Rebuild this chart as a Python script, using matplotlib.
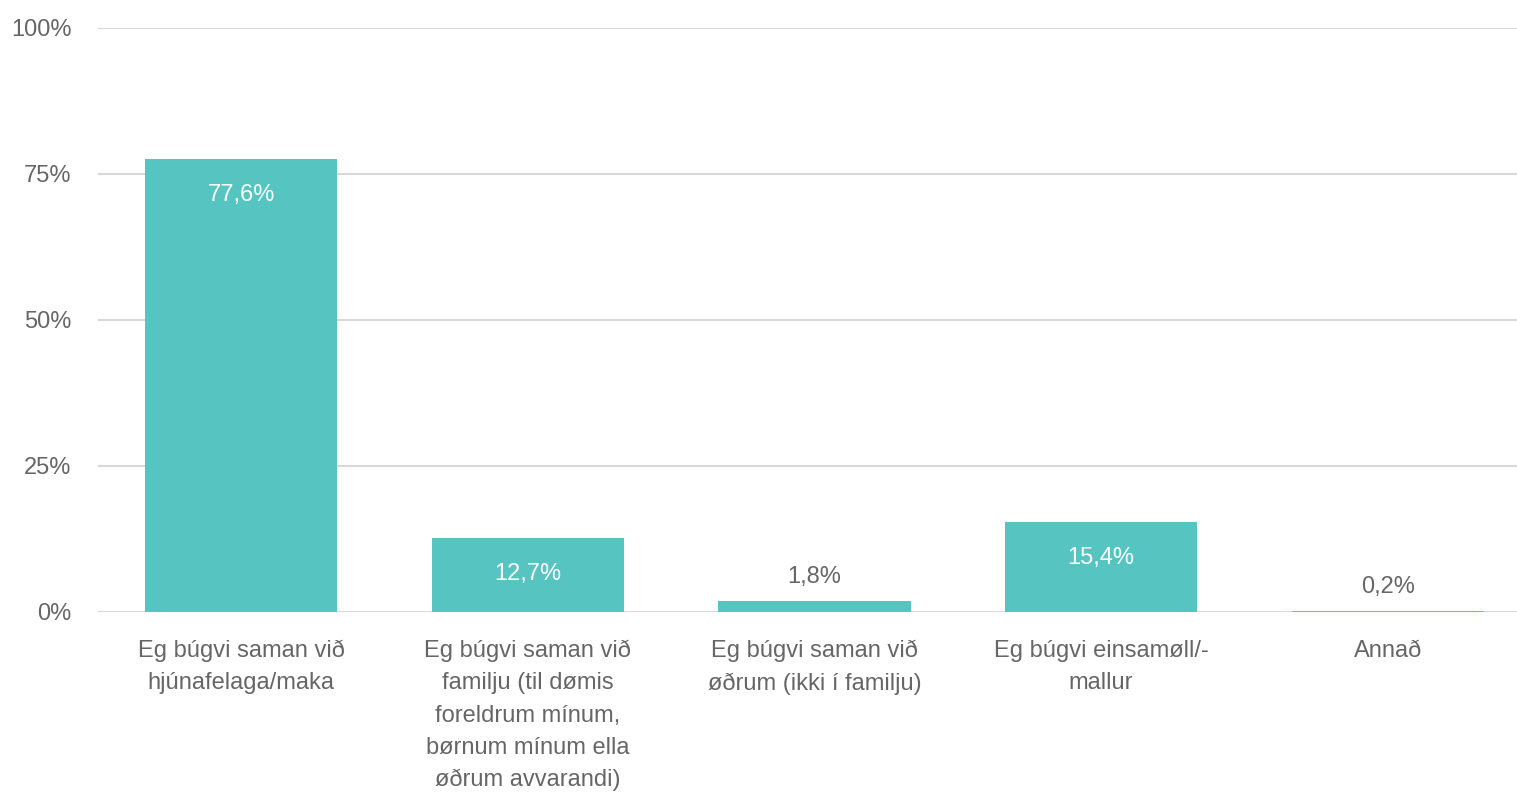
import matplotlib
matplotlib.use("Agg")
import matplotlib.pyplot as plt

categories = [
    "Eg búgvi saman við\nhjúnafelaga/maka",
    "Eg búgvi saman við\nfamilju (til dømis\nforeldrum mínum,\nbørnum mínum ella\nøðrum avvarandi)",
    "Eg búgvi saman við\nøðrum (ikki í familju)",
    "Eg búgvi einsamøll/-\nmallur",
    "Annað",
]
values = [77.6, 12.7, 1.8, 15.4, 0.2]
labels = ["77,6%", "12,7%", "1,8%", "15,4%", "0,2%"]
yticks = [0, 25, 50, 75, 100]
ytick_labels = ["0%", "25%", "50%", "75%", "100%"]

plt.rcParams["font.family"] = ["Liberation Sans", "DejaVu Sans"]

bar_color = "#56c4c0"
text_color = "#666666"
grid_color = "#d9d9d9"

fig = plt.figure(figsize=(15.17, 7.97), dpi=100)
# axes runs a bit past the right edge, like the reference
ax = fig.add_axes([98 / 1517, 185 / 797, 1433 / 1517, 584 / 797])

xs = list(range(len(categories)))
ax.bar(xs, values, width=0.67, color=bar_color, zorder=2)

for x, v, lab in zip(xs, values, labels):
    if v > 8:
        ax.annotate(lab, (x, v), xytext=(0, -36), textcoords="offset pixels",
                    ha="center", va="center", color="white", fontsize=17)
    else:
        ax.annotate(lab, (x, v), xytext=(0, 24), textcoords="offset pixels",
                    ha="center", va="center", color=text_color, fontsize=17)

ax.set_xlim(-0.5, len(categories) - 0.5)
ax.set_ylim(0, 100)
ax.set_yticks(yticks)
ax.set_yticklabels(ytick_labels)
ax.set_xticks(xs)
ax.set_xticklabels(categories, linespacing=1.6)
ax.tick_params(axis="both", length=0, colors=text_color, labelsize=17)
ax.tick_params(axis="y", pad=19)
ax.tick_params(axis="x", pad=20)
for lab in ax.get_xticklabels():
    lab.set_verticalalignment("top")
    lab.set_multialignment("center")

ax.grid(axis="y", color=grid_color, linewidth=1.5, zorder=0)
for s in ax.spines.values():
    s.set_visible(False)

fig.savefig("out.png", dpi=100)
